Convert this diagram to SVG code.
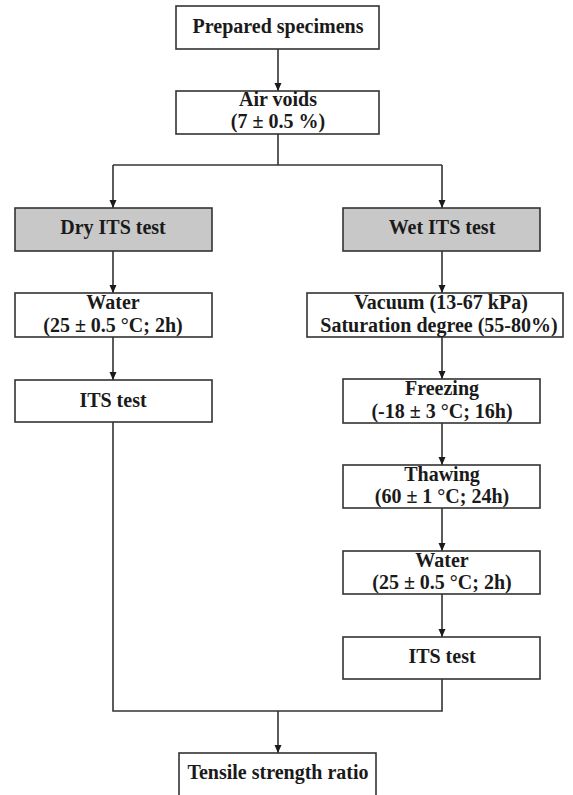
<svg xmlns="http://www.w3.org/2000/svg" width="573" height="795" viewBox="0 0 573 795">
<style>
.box{fill:#ffffff;stroke:#333333;stroke-width:1.6}
.grey{fill:#c8c8c8;stroke:#333333;stroke-width:1.6}
.t{font-family:"Liberation Serif","Times New Roman",serif;font-weight:bold;font-size:20px;fill:#1a1a1a;text-anchor:middle}
.c{fill:none;stroke:#333333;stroke-width:1.6}
</style>
<defs>
<marker id="ah" markerUnits="userSpaceOnUse" markerWidth="8" markerHeight="10" refX="8" refY="3.5" orient="auto">
<path d="M0,0 L8,3.5 L0,7 z" fill="#1a1a1a"/>
</marker>
</defs>
<rect width="573" height="795" fill="#ffffff"/>
<g id="connectors">
<path class="c" d="M278,49 V91" marker-end="url(#ah)"/>
<path class="c" d="M278,134 V165"/>
<path class="c" d="M113,165 H442"/>
<path class="c" d="M113,165 V208" marker-end="url(#ah)"/>
<path class="c" d="M442,165 V208" marker-end="url(#ah)"/>
<path class="c" d="M113,251 V293" marker-end="url(#ah)"/>
<path class="c" d="M113,337 V380" marker-end="url(#ah)"/>
<path class="c" d="M113,422 V711 H442 V679"/>
<path class="c" d="M278,711 V753" marker-end="url(#ah)"/>
<path class="c" d="M442,251 V293" marker-end="url(#ah)"/>
<path class="c" d="M442,337 V379" marker-end="url(#ah)"/>
<path class="c" d="M442,423 V465" marker-end="url(#ah)"/>
<path class="c" d="M442,508 V551" marker-end="url(#ah)"/>
<path class="c" d="M442,594 V637" marker-end="url(#ah)"/>
</g>
<g id="prepared">
<rect class="box" x="176" y="6" width="203" height="43"/>
<text class="t" x="278" y="33">Prepared specimens</text>
</g>
<g id="airvoids">
<rect class="box" x="176" y="91" width="203" height="43"/>
<text class="t" x="278" y="106">Air voids</text>
<text class="t" x="278" y="128">(7 ± 0.5 %)</text>
</g>
<g id="dry">
<rect class="grey" x="15" y="208" width="197" height="43"/>
<text class="t" x="113" y="234">Dry ITS test</text>
</g>
<g id="wet">
<rect class="grey" x="343" y="208" width="197" height="43"/>
<text class="t" x="442" y="234">Wet ITS test</text>
</g>
<g id="water-dry">
<rect class="box" x="15" y="293" width="197" height="44"/>
<text class="t" x="113" y="309">Water</text>
<text class="t" x="113" y="332">(25 ± 0.5 °C; 2h)</text>
</g>
<g id="its-dry">
<rect class="box" x="15" y="380" width="197" height="42"/>
<text class="t" x="113" y="407">ITS test</text>
</g>
<g id="vacuum">
<rect class="box" x="307" y="293" width="256" height="44"/>
<text class="t" x="441" y="309">Vacuum (13-67 kPa)</text>
<text class="t" x="439" y="332">Saturation degree (55-80%)</text>
</g>
<g id="freezing">
<rect class="box" x="343" y="379" width="197" height="44"/>
<text class="t" x="442" y="395">Freezing</text>
<text class="t" x="442" y="418">(-18 ± 3 °C; 16h)</text>
</g>
<g id="thawing">
<rect class="box" x="343" y="465" width="197" height="43"/>
<text class="t" x="442" y="481">Thawing</text>
<text class="t" x="442" y="503">(60 ± 1 °C; 24h)</text>
</g>
<g id="water-wet">
<rect class="box" x="343" y="551" width="197" height="43"/>
<text class="t" x="442" y="567">Water</text>
<text class="t" x="442" y="589">(25 ± 0.5 °C; 2h)</text>
</g>
<g id="its-wet">
<rect class="box" x="343" y="637" width="197" height="42"/>
<text class="t" x="442" y="663">ITS test</text>
</g>
<g id="tsr">
<rect class="box" x="179" y="753" width="197" height="50"/>
<text class="t" x="278" y="779">Tensile strength ratio</text>
</g>
</svg>
